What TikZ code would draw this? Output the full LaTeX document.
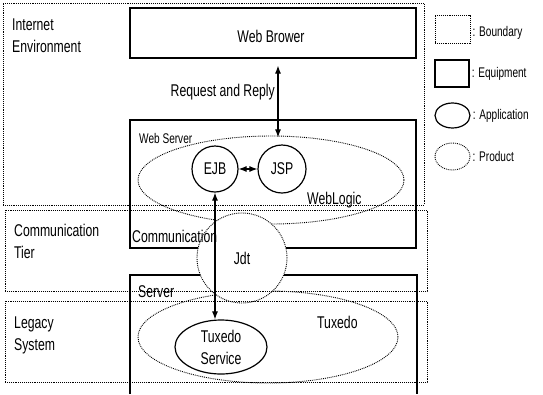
\documentclass[tikz,border=0pt]{standalone}
\usepackage{fontspec}
\setmainfont{Liberation Sans}[FakeStretch=0.72]
\usetikzlibrary{shapes.geometric,arrows.meta,positioning}

\begin{document}
\begin{tikzpicture}[x=1pt,y=-1pt,
  every node/.style={font=\fontsize{17}{22}\selectfont},
  small/.style={font=\fontsize{14}{16}\selectfont},
  bnd/.style  ={rectangle,draw,densely dotted,line width=0.9pt,inner sep=0},
  equip/.style={rectangle,draw,line width=1.2pt,inner sep=0},
  app/.style  ={ellipse,draw,line width=1.2pt,inner sep=0,align=center},
  prod/.style ={ellipse,draw,densely dotted,line width=0.9pt,inner sep=0},
  lbl/.style  ={inner sep=0,align=left},
  link/.style ={line width=1.1pt,{Latex[length=8pt,width=6pt]}-{Latex[length=8pt,width=6pt]}}
]
\useasboundingbox (0,0) rectangle (543,394);

\node[equip,minimum width=286pt,minimum height=50pt] (wb) at (273,33) {};
\node[equip,minimum width=286pt,minimum height=128pt] (ws) at (273,184) {};
\coordinate (srvsw) at (130,394);
\coordinate (srvnw) at (130,275);
\coordinate (srvne) at (417,275);
\coordinate (srvse) at (417,394);
\draw[line width=1.2pt] (srvsw) -- (srvnw) -- (srvne) -- (srvse);

\node[prod,minimum width=266pt,minimum height=88pt] (wl) at (271,180) {};
\node[prod,minimum width=260pt,minimum height=92pt] (tx) at (268,337) {};
\node[prod,fill=white,minimum size=90pt] (jdt) at (242,258) {Jdt};

\node[bnd,minimum width=421pt,minimum height=202pt] (inet) at (213.5,104) {};
\node[bnd,minimum width=422pt,minimum height=81pt] (comm) at (216,250.5) {};
\node[bnd,minimum width=422pt,minimum height=81pt] (leg) at (216,341.5) {};

\node[app,minimum size=46pt] (ejb) at (215,169) {EJB};
\node[app,minimum size=48pt] (jsp) at (282,169) {JSP};
\node[app,minimum width=92pt,minimum height=54pt] (ts) at (221,347) {Tuxedo\\Service};

\coordinate (rq) at (wb.south -| jsp.north);
\draw[link] ([xshift=-4pt,yshift=-7pt]rq) -- ([xshift=-4pt,yshift=7pt]jsp.north);
\draw[link] (ejb) -- (jsp);
\draw[link] (ejb.south) -- (ejb.south |- ts.north);

\node[lbl,anchor=base west] (inetl) at (12,52) {Internet\\Environment};
\node[lbl,anchor=base west] (comml) at (14,258) {Communication\\Tier};
\node[lbl,anchor=base west] (legl) at (14,350) {Legacy\\System};
\node[lbl,small,anchor=base west] (wsl) at (139,143) {Web Server};
\node[lbl,anchor=base west] (cml) at (132,242) {Communication};
\node[lbl,anchor=base west] (srvl) at (138,297) {Server};
\node[lbl,anchor=base west] (wll) at (307,204) {WebLogic};
\node[lbl,anchor=base west] (txl) at (317,328) {Tuxedo};
\node[lbl,anchor=base east] (rql) at (275,96) {Request and Reply};
\node[lbl,anchor=base] (wbl) at (271,42) {Web Brower};

\node[bnd,minimum width=35pt,minimum height=28pt] (kb) at (452.5,29) {};
\node[equip,minimum width=34pt,minimum height=27pt] (ke) at (452,73.5) {};
\node[app,minimum width=35pt,minimum height=25pt] (ka) at (452.5,115.5) {};
\node[prod,minimum width=35pt,minimum height=27pt] (kp) at (452.5,156.5) {};
\node[lbl,small,anchor=west,right=2pt of kb,yshift=-4pt] (kbl) {: Boundary};
\node[lbl,small,anchor=west,right=2pt of ke] (kel) {: Equipment};
\node[lbl,small,anchor=west,right=2pt of ka] (kal) {: Application};
\node[lbl,small,anchor=west,right=2pt of kp] (kpl) {: Product};
\end{tikzpicture}
\end{document}
